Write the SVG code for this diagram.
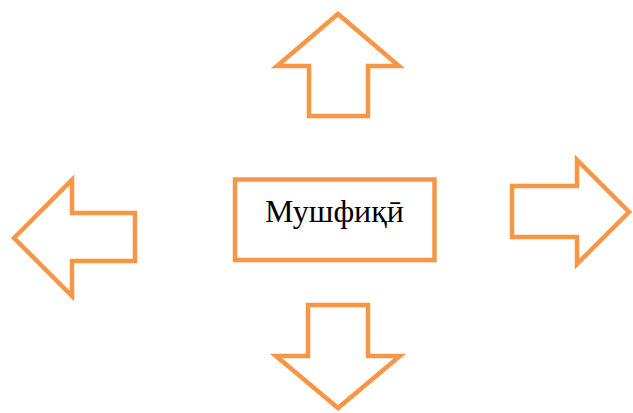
<svg xmlns="http://www.w3.org/2000/svg" width="633" height="413" viewBox="0 0 633 413">
<style>
.sh{fill:#ffffff;stroke:#F79646;stroke-width:4.5;stroke-linejoin:miter;stroke-miterlimit:10}
.t{font-family:"Liberation Serif","Times New Roman",serif;font-size:32px;fill:#000000}
</style>
<rect width="633" height="413" fill="#ffffff"/>
<g id="center">
<rect class="sh" x="235" y="179.5" width="199.5" height="80.5"/>
<text class="t" x="334.5" y="222" text-anchor="middle">Мушфиқӣ</text>
</g>
<g id="arrow-up">
<polygon class="sh" points="338,14 277,66 309,66 309,116 368,116 368,66 399,66"/>
</g>
<g id="arrow-left">
<polygon class="sh" points="14,238 72,180 72,213 135,213 135,261 72,261 72,296"/>
</g>
<g id="arrow-right">
<polygon class="sh" points="512,186 577,186 577,160 629,212 577,264 577,237 512,237"/>
</g>
<g id="arrow-down">
<polygon class="sh" points="308,305 368,305 368,356 400,356 338,408 276,356 308,356"/>
</g>
</svg>
